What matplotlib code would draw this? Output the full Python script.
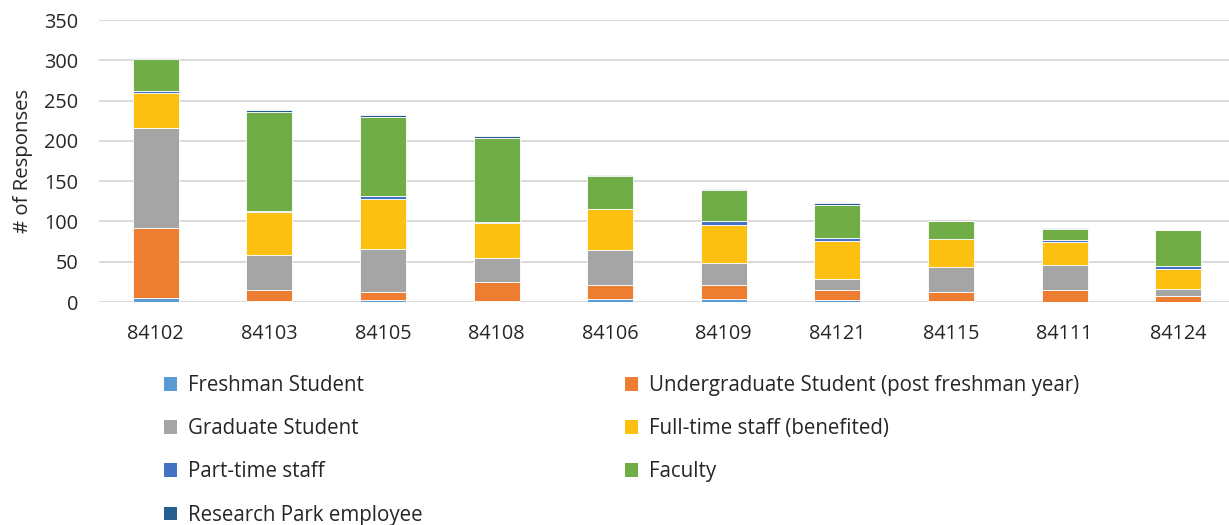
import matplotlib
matplotlib.use("Agg")
import matplotlib.pyplot as plt
from matplotlib.patches import Patch
import numpy as np

plt.rcParams['font.family'] = ['Open Sans', 'DejaVu Sans']

categories = ["84102", "84103", "84105", "84108", "84106", "84109", "84121", "84115", "84111", "84124"]
series_names = ["Freshman Student", "Undergraduate Student (post freshman year)", "Graduate Student",
                "Full-time staff (benefited)", "Part-time staff", "Faculty", "Research Park employee"]
freshman = [5, 1, 2, 1, 4, 4, 3, 1, 0, 0]
undergrad = [87, 14, 10, 24, 17, 17, 12, 11, 15, 8]
graduate = [124, 43, 54, 30, 43, 27, 14, 32, 31, 8]
fulltime = [43, 54, 62, 43, 51, 48, 47, 34, 29, 25]
parttime = [3, 1, 4, 1, 1, 4, 3, 0, 2, 4]
faculty = [40, 123, 97, 104, 41, 39, 41, 22, 14, 44]
research = [1, 2, 3, 3, 1, 1, 3, 1, 1, 0]
colors = ["#5B9BD5", "#ED7D31", "#A5A5A5", "#FCC010", "#4472C4", "#70AD47", "#255E91"]
yticks = [0, 50, 100, 150, 200, 250, 300, 350]

data = [freshman, undergrad, graduate, fulltime, parttime, faculty, research]

W, H = 1229, 525
fig = plt.figure(figsize=(W / 100, H / 100), dpi=100)
ax = fig.add_axes([99 / W, 1 - 302 / H, 1 - 99 / W, (302 - 20) / H])

x = np.arange(len(categories))
bottom = np.zeros(len(categories))
handles = []
for vals, c, name in zip(data, colors, series_names):
    v = np.array(vals, dtype=float)
    ax.bar(x, v, 0.405, bottom=bottom, color=c, edgecolor="white", linewidth=0.6, zorder=3)
    bottom += v
    handles.append(Patch(facecolor=c, edgecolor='none', label=name))

ax.set_ylim(0, 350)
ax.set_xlim(-0.5, -0.5 + (W - 99) / 113.6)
ax.set_yticks(yticks)
ax.set_xticks(x)
ax.set_xticklabels(categories)
ax.yaxis.grid(True, color="#D9D9D9", linewidth=1.4, zorder=0)
ax.set_axisbelow(True)
for s in ax.spines.values():
    s.set_visible(False)
ax.tick_params(axis='both', length=0, labelsize=14.3, colors="#262626")
ax.tick_params(axis='y', pad=15)
ax.tick_params(axis='x', pad=16)
ax.set_ylabel("# of Responses", fontsize=14.7, color="#262626", labelpad=8)

left_idx = [0, 2, 4, 6]
right_idx = [1, 3, 5]
common = dict(frameon=False, fontsize=14.8, handlelength=0.65, handleheight=0.65,
              handletextpad=0.5, labelspacing=1.08, borderpad=0, borderaxespad=0,
              loc='upper left', labelcolor="#262626")
leg1 = fig.legend([handles[i] for i in left_idx], [series_names[i] for i in left_idx],
                  bbox_to_anchor=(164 / W, 1 - 375 / H), **common)
leg2 = fig.legend([handles[i] for i in right_idx], [series_names[i] for i in right_idx],
                  bbox_to_anchor=(625 / W, 1 - 375 / H), **common)

fig.savefig("out.png", dpi=100)
